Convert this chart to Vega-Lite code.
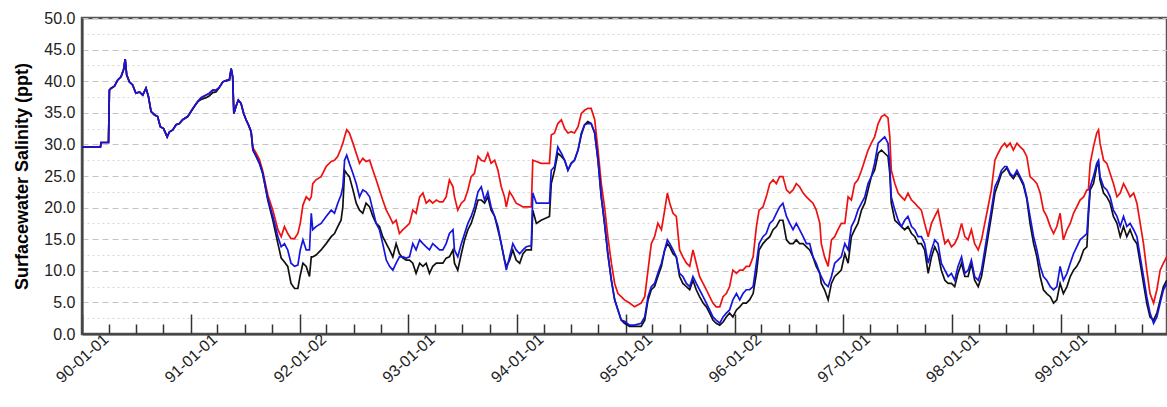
{
  "$schema": "https://vega.github.io/schema/vega-lite/v6.json",
  "width": 1085,
  "height": 316,
  "autosize": {"type": "none"},
  "padding": {"left": 82, "top": 18, "right": 0, "bottom": 73},
  "background": "white",
  "config": {"view": {"stroke": "#555555", "strokeWidth": 2.5}, "font": "Liberation Sans"},
  "data": {
    "format": {"parse": {"d": "date:'%Y-%m-%d'"}},
    "values": [
      {"d":"1990-01-01","r":29.6,"b":29.6,"k":29.6},
      {"d":"1990-03-04","r":29.6,"b":29.6,"k":29.6},
      {"d":"1990-03-06","r":30.3,"b":30.3,"k":30.3},
      {"d":"1990-03-31","r":30.3,"b":30.3,"k":30.3},
      {"d":"1990-04-03","r":38.6,"b":38.6,"k":38.6},
      {"d":"1990-04-09","r":38.9,"b":38.9,"k":38.9},
      {"d":"1990-04-20","r":39.2,"b":39.2,"k":39.2},
      {"d":"1990-05-01","r":40.2,"b":40.2,"k":40.2},
      {"d":"1990-05-12","r":40.7,"b":40.7,"k":40.7},
      {"d":"1990-05-21","r":41.9,"b":41.9,"k":41.9},
      {"d":"1990-05-26","r":43.5,"b":43.5,"k":43.5},
      {"d":"1990-05-31","r":41.0,"b":41.0,"k":41.0},
      {"d":"1990-06-09","r":39.9,"b":39.9,"k":39.9},
      {"d":"1990-06-20","r":39.4,"b":39.4,"k":39.4},
      {"d":"1990-07-01","r":38.1,"b":38.1,"k":38.1},
      {"d":"1990-07-13","r":38.3,"b":38.3,"k":38.3},
      {"d":"1990-07-24","r":37.8,"b":37.8,"k":37.8},
      {"d":"1990-08-04","r":38.9,"b":38.9,"k":38.9},
      {"d":"1990-08-12","r":37.6,"b":37.6,"k":37.6},
      {"d":"1990-08-21","r":35.2,"b":35.2,"k":35.2},
      {"d":"1990-09-01","r":34.7,"b":34.7,"k":34.7},
      {"d":"1990-09-12","r":34.4,"b":34.4,"k":34.4},
      {"d":"1990-09-21","r":32.8,"b":32.8,"k":32.8},
      {"d":"1990-10-02","r":32.5,"b":32.5,"k":32.5},
      {"d":"1990-10-14","r":31.2,"b":31.2,"k":31.2},
      {"d":"1990-10-22","r":32.0,"b":32.0,"k":32.0},
      {"d":"1990-11-02","r":32.3,"b":32.3,"k":32.3},
      {"d":"1990-11-13","r":33.1,"b":33.1,"k":33.1},
      {"d":"1990-11-24","r":33.3,"b":33.3,"k":33.3},
      {"d":"1990-12-05","r":33.9,"b":33.9,"k":33.9},
      {"d":"1990-12-22","r":34.4,"b":34.4,"k":34.4},
      {"d":"1991-01-02","r":35.2,"b":35.2,"k":35.2},
      {"d":"1991-01-13","r":36.0,"b":36.0,"k":36.0},
      {"d":"1991-01-25","r":36.8,"b":36.8,"k":36.8},
      {"d":"1991-02-05","r":37.4,"b":37.4,"k":37.1},
      {"d":"1991-02-22","r":37.8,"b":37.8,"k":37.4},
      {"d":"1991-03-05","r":38.1,"b":38.1,"k":37.7},
      {"d":"1991-03-16","r":38.6,"b":38.6,"k":38.2},
      {"d":"1991-03-27","r":38.6,"b":38.6,"k":38.3},
      {"d":"1991-04-07","r":39.0,"b":39.0,"k":39.0},
      {"d":"1991-04-19","r":39.9,"b":39.9,"k":39.9},
      {"d":"1991-04-30","r":40.1,"b":40.1,"k":40.1},
      {"d":"1991-05-11","r":40.2,"b":40.2,"k":40.2},
      {"d":"1991-05-17","r":42.0,"b":42.0,"k":42.0},
      {"d":"1991-05-22","r":40.7,"b":40.7,"k":40.7},
      {"d":"1991-05-26","r":34.9,"b":34.9,"k":34.9},
      {"d":"1991-06-02","r":36.0,"b":36.0,"k":36.0},
      {"d":"1991-06-10","r":37.0,"b":37.0,"k":37.0},
      {"d":"1991-06-19","r":36.5,"b":36.5,"k":36.5},
      {"d":"1991-06-28","r":34.9,"b":34.9,"k":34.9},
      {"d":"1991-07-06","r":33.9,"b":33.9,"k":33.9},
      {"d":"1991-07-14","r":33.1,"b":33.1,"k":33.1},
      {"d":"1991-07-23","r":32.0,"b":32.0,"k":32.0},
      {"d":"1991-07-29","r":29.5,"b":29.1,"k":29.1},
      {"d":"1991-08-09","r":28.6,"b":28.1,"k":28.1},
      {"d":"1991-08-20","r":27.6,"b":27.0,"k":27.0},
      {"d":"1991-08-31","r":25.8,"b":25.4,"k":25.4},
      {"d":"1991-09-17","r":22.0,"b":21.4,"k":21.2},
      {"d":"1991-10-04","r":19.6,"b":18.6,"k":18.0},
      {"d":"1991-10-21","r":16.5,"b":15.4,"k":14.3},
      {"d":"1991-11-01","r":15.4,"b":13.8,"k":12.0},
      {"d":"1991-11-12","r":17.0,"b":14.3,"k":11.4},
      {"d":"1991-11-23","r":15.9,"b":13.3,"k":10.7},
      {"d":"1991-12-04","r":15.1,"b":11.2,"k":8.0},
      {"d":"1991-12-16","r":15.1,"b":10.7,"k":7.2},
      {"d":"1991-12-27","r":15.9,"b":10.9,"k":7.2},
      {"d":"1992-01-04","r":17.5,"b":13.3,"k":9.3},
      {"d":"1992-01-13","r":20.4,"b":14.9,"k":11.2},
      {"d":"1992-01-24","r":21.7,"b":13.3,"k":10.7},
      {"d":"1992-02-04","r":21.2,"b":13.3,"k":9.1},
      {"d":"1992-02-10","r":21.7,"b":19.1,"k":12.2},
      {"d":"1992-02-15","r":23.8,"b":16.5,"k":12.2},
      {"d":"1992-02-26","r":24.4,"b":17.0,"k":12.5},
      {"d":"1992-03-14","r":24.9,"b":17.5,"k":13.3},
      {"d":"1992-03-31","r":26.5,"b":18.6,"k":14.3},
      {"d":"1992-04-17","r":27.3,"b":19.6,"k":15.4},
      {"d":"1992-04-28","r":27.5,"b":19.1,"k":15.9},
      {"d":"1992-05-09","r":28.1,"b":20.7,"k":17.0},
      {"d":"1992-05-20","r":29.4,"b":22.0,"k":18.0},
      {"d":"1992-05-26","r":30.2,"b":23.3,"k":20.1},
      {"d":"1992-06-01","r":31.2,"b":27.5,"k":25.9},
      {"d":"1992-06-08","r":32.3,"b":28.3,"k":25.4},
      {"d":"1992-06-17","r":31.8,"b":27.0,"k":24.9},
      {"d":"1992-06-29","r":30.2,"b":25.4,"k":22.8},
      {"d":"1992-07-10","r":28.6,"b":23.8,"k":20.7},
      {"d":"1992-07-21","r":27.0,"b":21.7,"k":19.6},
      {"d":"1992-08-01","r":27.8,"b":22.8,"k":19.1},
      {"d":"1992-08-12","r":27.3,"b":22.5,"k":20.7},
      {"d":"1992-08-24","r":27.5,"b":21.7,"k":20.1},
      {"d":"1992-09-04","r":25.9,"b":19.6,"k":18.6},
      {"d":"1992-09-15","r":24.4,"b":17.5,"k":17.5},
      {"d":"1992-09-26","r":22.8,"b":16.5,"k":17.0},
      {"d":"1992-10-07","r":21.2,"b":14.3,"k":15.4},
      {"d":"1992-10-19","r":19.6,"b":11.7,"k":14.3},
      {"d":"1992-10-30","r":18.6,"b":10.7,"k":13.3},
      {"d":"1992-11-10","r":17.5,"b":10.1,"k":12.2},
      {"d":"1992-11-21","r":18.0,"b":11.2,"k":14.3},
      {"d":"1992-12-02","r":15.9,"b":12.2,"k":12.7},
      {"d":"1992-12-14","r":16.5,"b":12.2,"k":12.0},
      {"d":"1992-12-25","r":17.0,"b":12.0,"k":11.7},
      {"d":"1993-01-05","r":17.5,"b":12.2,"k":11.7},
      {"d":"1993-01-16","r":19.6,"b":14.3,"k":11.2},
      {"d":"1993-01-27","r":19.1,"b":13.3,"k":9.6},
      {"d":"1993-02-08","r":21.7,"b":14.9,"k":11.2},
      {"d":"1993-02-19","r":22.3,"b":14.3,"k":10.7},
      {"d":"1993-03-02","r":20.7,"b":13.8,"k":11.2},
      {"d":"1993-03-13","r":21.2,"b":13.3,"k":9.6},
      {"d":"1993-03-24","r":20.7,"b":14.3,"k":10.7},
      {"d":"1993-04-05","r":21.2,"b":13.8,"k":11.2},
      {"d":"1993-04-16","r":20.9,"b":13.3,"k":11.2},
      {"d":"1993-04-27","r":20.9,"b":13.3,"k":11.2},
      {"d":"1993-05-08","r":21.7,"b":14.3,"k":12.0},
      {"d":"1993-05-19","r":24.4,"b":15.9,"k":12.2},
      {"d":"1993-05-31","r":23.3,"b":16.5,"k":13.3},
      {"d":"1993-06-05","r":21.7,"b":13.3,"k":11.2},
      {"d":"1993-06-16","r":19.6,"b":12.2,"k":10.1},
      {"d":"1993-06-28","r":20.7,"b":14.3,"k":12.7},
      {"d":"1993-07-09","r":21.2,"b":15.9,"k":14.9},
      {"d":"1993-07-20","r":22.8,"b":17.5,"k":16.5},
      {"d":"1993-07-31","r":24.9,"b":18.6,"k":17.5},
      {"d":"1993-08-11","r":25.4,"b":20.1,"k":19.1},
      {"d":"1993-08-23","r":28.1,"b":22.5,"k":21.2},
      {"d":"1993-09-03","r":27.5,"b":23.3,"k":21.2},
      {"d":"1993-09-14","r":27.3,"b":21.2,"k":20.7},
      {"d":"1993-09-25","r":28.6,"b":22.5,"k":21.7},
      {"d":"1993-10-06","r":27.0,"b":20.1,"k":19.6},
      {"d":"1993-10-18","r":27.5,"b":18.6,"k":18.6},
      {"d":"1993-10-29","r":25.9,"b":17.0,"k":16.5},
      {"d":"1993-11-09","r":23.3,"b":14.3,"k":14.3},
      {"d":"1993-11-20","r":21.7,"b":11.7,"k":11.7},
      {"d":"1993-11-26","r":20.1,"b":10.1,"k":10.7},
      {"d":"1993-12-07","r":22.5,"b":12.2,"k":11.7},
      {"d":"1993-12-18","r":21.7,"b":14.3,"k":13.3},
      {"d":"1993-12-29","r":20.7,"b":13.3,"k":11.7},
      {"d":"1994-01-10","r":20.4,"b":12.7,"k":11.2},
      {"d":"1994-01-21","r":20.1,"b":13.3,"k":12.7},
      {"d":"1994-02-01","r":20.1,"b":13.8,"k":13.3},
      {"d":"1994-02-18","r":20.1,"b":14.0,"k":13.3},
      {"d":"1994-02-23","r":27.5,"b":22.3,"k":19.6},
      {"d":"1994-03-07","r":27.3,"b":20.7,"k":17.5},
      {"d":"1994-03-23","r":27.0,"b":20.7,"k":18.0},
      {"d":"1994-04-20","r":27.0,"b":20.7,"k":18.6},
      {"d":"1994-04-26","r":31.5,"b":25.9,"k":23.8},
      {"d":"1994-05-07","r":31.8,"b":26.5,"k":25.9},
      {"d":"1994-05-18","r":33.3,"b":29.6,"k":28.6},
      {"d":"1994-05-30","r":33.9,"b":28.6,"k":28.1},
      {"d":"1994-06-10","r":32.5,"b":27.5,"k":27.5},
      {"d":"1994-06-21","r":31.8,"b":25.9,"k":25.9},
      {"d":"1994-07-02","r":32.0,"b":27.0,"k":27.0},
      {"d":"1994-07-13","r":31.8,"b":27.5,"k":27.5},
      {"d":"1994-07-25","r":32.8,"b":29.1,"k":29.1},
      {"d":"1994-08-05","r":34.9,"b":31.8,"k":31.5},
      {"d":"1994-08-16","r":35.4,"b":33.1,"k":33.1},
      {"d":"1994-08-27","r":35.7,"b":33.3,"k":33.6},
      {"d":"1994-09-07","r":35.7,"b":33.3,"k":33.3},
      {"d":"1994-09-19","r":33.9,"b":31.8,"k":31.8},
      {"d":"1994-09-30","r":29.1,"b":27.5,"k":27.5},
      {"d":"1994-10-11","r":23.8,"b":21.7,"k":21.7},
      {"d":"1994-10-22","r":20.1,"b":17.5,"k":17.5},
      {"d":"1994-11-02","r":15.4,"b":12.7,"k":12.7},
      {"d":"1994-11-14","r":11.2,"b":8.5,"k":8.5},
      {"d":"1994-11-25","r":8.0,"b":5.4,"k":5.4},
      {"d":"1994-12-06","r":6.4,"b":3.8,"k":3.8},
      {"d":"1994-12-17","r":5.9,"b":2.2,"k":2.2},
      {"d":"1994-12-28","r":5.4,"b":2.0,"k":1.7},
      {"d":"1995-01-14","r":4.9,"b":1.4,"k":1.2},
      {"d":"1995-01-31","r":4.3,"b":1.4,"k":1.2},
      {"d":"1995-02-22","r":4.9,"b":1.7,"k":1.2},
      {"d":"1995-03-06","r":5.9,"b":2.7,"k":2.2},
      {"d":"1995-03-17","r":10.1,"b":5.9,"k":5.4},
      {"d":"1995-03-28","r":14.3,"b":7.5,"k":7.0},
      {"d":"1995-04-08","r":15.4,"b":8.0,"k":7.5},
      {"d":"1995-04-19","r":17.5,"b":9.6,"k":9.1},
      {"d":"1995-05-01","r":16.5,"b":11.2,"k":10.7},
      {"d":"1995-05-12","r":19.6,"b":13.3,"k":13.3},
      {"d":"1995-05-21","r":22.3,"b":14.9,"k":14.3},
      {"d":"1995-05-29","r":20.7,"b":14.3,"k":13.8},
      {"d":"1995-06-09","r":19.1,"b":13.3,"k":12.7},
      {"d":"1995-06-20","r":18.6,"b":12.2,"k":12.2},
      {"d":"1995-07-01","r":13.3,"b":9.6,"k":9.1},
      {"d":"1995-07-12","r":12.2,"b":9.1,"k":8.0},
      {"d":"1995-07-24","r":11.2,"b":8.0,"k":7.5},
      {"d":"1995-08-04","r":10.7,"b":7.5,"k":7.0},
      {"d":"1995-08-15","r":13.3,"b":9.1,"k":8.5},
      {"d":"1995-08-26","r":11.2,"b":8.0,"k":7.0},
      {"d":"1995-09-06","r":9.1,"b":7.0,"k":5.9},
      {"d":"1995-09-18","r":8.0,"b":5.9,"k":4.9},
      {"d":"1995-09-29","r":7.0,"b":4.9,"k":4.3},
      {"d":"1995-10-10","r":5.9,"b":3.8,"k":3.3},
      {"d":"1995-10-21","r":4.9,"b":2.7,"k":2.2},
      {"d":"1995-11-01","r":4.3,"b":2.2,"k":1.7},
      {"d":"1995-11-13","r":4.3,"b":1.7,"k":1.4},
      {"d":"1995-11-24","r":5.9,"b":2.7,"k":1.9},
      {"d":"1995-12-05","r":6.4,"b":3.3,"k":2.7},
      {"d":"1995-12-16","r":7.5,"b":3.8,"k":3.3},
      {"d":"1995-12-27","r":10.1,"b":5.4,"k":2.7},
      {"d":"1996-01-08","r":9.6,"b":6.4,"k":3.8},
      {"d":"1996-01-19","r":10.1,"b":5.4,"k":4.3},
      {"d":"1996-01-30","r":10.1,"b":6.4,"k":4.9},
      {"d":"1996-02-10","r":10.7,"b":7.0,"k":4.9},
      {"d":"1996-02-21","r":10.7,"b":7.0,"k":5.4},
      {"d":"1996-03-04","r":12.2,"b":7.5,"k":6.4},
      {"d":"1996-03-15","r":17.0,"b":11.2,"k":9.6},
      {"d":"1996-03-24","r":19.6,"b":14.3,"k":13.3},
      {"d":"1996-04-06","r":20.1,"b":15.4,"k":14.3},
      {"d":"1996-04-17","r":21.7,"b":15.9,"k":14.9},
      {"d":"1996-04-29","r":23.8,"b":17.5,"k":15.4},
      {"d":"1996-05-10","r":24.4,"b":18.0,"k":16.5},
      {"d":"1996-05-21","r":23.8,"b":19.1,"k":17.0},
      {"d":"1996-06-01","r":24.9,"b":20.1,"k":18.0},
      {"d":"1996-06-12","r":24.9,"b":20.7,"k":18.0},
      {"d":"1996-06-24","r":22.8,"b":18.6,"k":14.9},
      {"d":"1996-07-05","r":22.3,"b":17.5,"k":14.3},
      {"d":"1996-07-16","r":22.8,"b":16.5,"k":14.3},
      {"d":"1996-07-27","r":23.8,"b":17.5,"k":14.9},
      {"d":"1996-08-07","r":23.3,"b":16.5,"k":14.3},
      {"d":"1996-08-19","r":22.3,"b":15.4,"k":14.3},
      {"d":"1996-08-30","r":21.7,"b":14.3,"k":13.8},
      {"d":"1996-09-10","r":21.2,"b":14.3,"k":13.3},
      {"d":"1996-09-21","r":20.7,"b":12.2,"k":12.2},
      {"d":"1996-10-02","r":19.6,"b":11.2,"k":10.7},
      {"d":"1996-10-14","r":17.5,"b":9.6,"k":9.6},
      {"d":"1996-10-19","r":14.3,"b":9.1,"k":8.0},
      {"d":"1996-10-30","r":12.2,"b":8.0,"k":7.0},
      {"d":"1996-11-11","r":10.7,"b":7.5,"k":5.4},
      {"d":"1996-11-22","r":14.9,"b":9.1,"k":8.0},
      {"d":"1996-12-03","r":15.4,"b":11.2,"k":9.1},
      {"d":"1996-12-14","r":16.5,"b":11.7,"k":9.6},
      {"d":"1996-12-25","r":17.5,"b":12.2,"k":10.1},
      {"d":"1997-01-06","r":17.5,"b":14.3,"k":12.7},
      {"d":"1997-01-17","r":21.7,"b":13.3,"k":11.2},
      {"d":"1997-01-28","r":21.2,"b":17.0,"k":15.4},
      {"d":"1997-02-08","r":23.8,"b":18.0,"k":16.5},
      {"d":"1997-02-19","r":24.4,"b":19.6,"k":17.5},
      {"d":"1997-03-03","r":25.9,"b":20.7,"k":19.6},
      {"d":"1997-03-14","r":27.5,"b":21.7,"k":20.7},
      {"d":"1997-03-25","r":29.1,"b":23.8,"k":22.8},
      {"d":"1997-04-05","r":30.2,"b":24.9,"k":24.9},
      {"d":"1997-04-16","r":31.2,"b":27.0,"k":25.9},
      {"d":"1997-04-28","r":33.3,"b":30.2,"k":28.6},
      {"d":"1997-05-09","r":34.4,"b":30.7,"k":29.1},
      {"d":"1997-05-20","r":34.7,"b":31.2,"k":28.6},
      {"d":"1997-05-31","r":34.2,"b":30.2,"k":28.1},
      {"d":"1997-06-06","r":31.2,"b":26.5,"k":25.4},
      {"d":"1997-06-11","r":25.9,"b":21.7,"k":20.7},
      {"d":"1997-06-23","r":23.8,"b":19.6,"k":18.0},
      {"d":"1997-07-04","r":22.3,"b":18.0,"k":17.5},
      {"d":"1997-07-15","r":21.7,"b":17.0,"k":17.0},
      {"d":"1997-07-26","r":21.2,"b":18.0,"k":16.5},
      {"d":"1997-08-06","r":22.3,"b":18.6,"k":17.0},
      {"d":"1997-08-18","r":21.2,"b":17.0,"k":15.9},
      {"d":"1997-08-29","r":20.7,"b":16.5,"k":15.4},
      {"d":"1997-09-09","r":20.1,"b":15.4,"k":14.3},
      {"d":"1997-09-20","r":19.6,"b":15.4,"k":14.3},
      {"d":"1997-10-01","r":17.5,"b":14.3,"k":13.3},
      {"d":"1997-10-13","r":15.4,"b":11.2,"k":9.6},
      {"d":"1997-10-24","r":17.5,"b":13.3,"k":12.2},
      {"d":"1997-11-04","r":18.6,"b":14.9,"k":13.8},
      {"d":"1997-11-15","r":19.6,"b":14.3,"k":12.7},
      {"d":"1997-11-26","r":17.0,"b":11.2,"k":10.1},
      {"d":"1997-12-08","r":14.3,"b":10.1,"k":8.5},
      {"d":"1997-12-19","r":14.9,"b":9.1,"k":8.0},
      {"d":"1997-12-30","r":13.8,"b":9.6,"k":8.0},
      {"d":"1998-01-10","r":14.3,"b":8.5,"k":7.5},
      {"d":"1998-01-21","r":15.4,"b":10.7,"k":9.6},
      {"d":"1998-02-02","r":17.5,"b":12.2,"k":11.2},
      {"d":"1998-02-13","r":15.4,"b":9.6,"k":9.1},
      {"d":"1998-02-24","r":14.9,"b":10.1,"k":9.1},
      {"d":"1998-03-07","r":16.5,"b":11.7,"k":11.2},
      {"d":"1998-03-18","r":14.3,"b":9.1,"k":8.5},
      {"d":"1998-03-30","r":13.3,"b":8.5,"k":7.5},
      {"d":"1998-04-10","r":14.9,"b":10.1,"k":9.1},
      {"d":"1998-04-21","r":17.5,"b":13.3,"k":12.2},
      {"d":"1998-05-02","r":20.1,"b":16.5,"k":15.4},
      {"d":"1998-05-13","r":22.8,"b":19.6,"k":18.6},
      {"d":"1998-05-25","r":27.5,"b":23.3,"k":22.3},
      {"d":"1998-06-05","r":28.6,"b":24.4,"k":23.8},
      {"d":"1998-06-16","r":29.6,"b":25.9,"k":25.4},
      {"d":"1998-06-27","r":30.2,"b":26.5,"k":25.9},
      {"d":"1998-07-04","r":29.6,"b":26.5,"k":26.3},
      {"d":"1998-07-15","r":30.2,"b":25.4,"k":25.2},
      {"d":"1998-07-26","r":29.1,"b":24.9,"k":24.6},
      {"d":"1998-08-07","r":30.2,"b":25.9,"k":25.5},
      {"d":"1998-08-18","r":29.6,"b":24.9,"k":24.6},
      {"d":"1998-08-29","r":29.1,"b":23.8,"k":23.5},
      {"d":"1998-09-09","r":28.1,"b":21.7,"k":21.4},
      {"d":"1998-09-20","r":24.9,"b":18.6,"k":17.5},
      {"d":"1998-10-02","r":24.4,"b":15.4,"k":14.3},
      {"d":"1998-10-13","r":23.8,"b":13.3,"k":12.2},
      {"d":"1998-10-24","r":22.3,"b":10.7,"k":9.1},
      {"d":"1998-11-04","r":19.6,"b":9.1,"k":7.0},
      {"d":"1998-11-15","r":18.6,"b":8.5,"k":6.4},
      {"d":"1998-11-27","r":17.0,"b":7.5,"k":5.9},
      {"d":"1998-12-08","r":15.9,"b":7.0,"k":4.9},
      {"d":"1998-12-19","r":17.0,"b":7.5,"k":5.4},
      {"d":"1998-12-30","r":19.1,"b":10.7,"k":8.0},
      {"d":"1999-01-10","r":14.9,"b":8.5,"k":6.4},
      {"d":"1999-01-22","r":16.5,"b":9.6,"k":7.5},
      {"d":"1999-02-02","r":17.5,"b":11.2,"k":9.1},
      {"d":"1999-02-13","r":19.1,"b":12.7,"k":10.1},
      {"d":"1999-02-24","r":20.1,"b":13.8,"k":10.7},
      {"d":"1999-03-07","r":21.2,"b":14.9,"k":11.7},
      {"d":"1999-03-19","r":21.7,"b":15.4,"k":13.3},
      {"d":"1999-03-30","r":22.8,"b":15.9,"k":13.8},
      {"d":"1999-04-04","r":22.8,"b":19.6,"k":18.6},
      {"d":"1999-04-10","r":27.0,"b":23.3,"k":22.8},
      {"d":"1999-04-21","r":29.6,"b":24.9,"k":23.8},
      {"d":"1999-05-02","r":31.8,"b":27.0,"k":26.5},
      {"d":"1999-05-08","r":32.3,"b":27.5,"k":27.0},
      {"d":"1999-05-13","r":30.2,"b":24.9,"k":24.4},
      {"d":"1999-05-25","r":27.5,"b":23.3,"k":22.3},
      {"d":"1999-06-05","r":27.0,"b":22.8,"k":21.7},
      {"d":"1999-06-16","r":25.4,"b":21.7,"k":20.7},
      {"d":"1999-06-27","r":23.8,"b":19.6,"k":18.6},
      {"d":"1999-07-09","r":21.7,"b":18.6,"k":17.5},
      {"d":"1999-07-20","r":22.3,"b":17.0,"k":15.4},
      {"d":"1999-07-31","r":23.8,"b":18.6,"k":17.0},
      {"d":"1999-08-11","r":22.8,"b":17.0,"k":15.4},
      {"d":"1999-08-22","r":21.7,"b":17.5,"k":16.5},
      {"d":"1999-09-03","r":22.3,"b":16.5,"k":15.0},
      {"d":"1999-09-14","r":20.7,"b":15.4,"k":14.3},
      {"d":"1999-09-25","r":17.5,"b":12.2,"k":11.2},
      {"d":"1999-10-06","r":14.3,"b":9.1,"k":8.0},
      {"d":"1999-10-17","r":10.1,"b":5.9,"k":4.9},
      {"d":"1999-10-28","r":6.4,"b":3.3,"k":2.7},
      {"d":"1999-11-09","r":4.9,"b":1.7,"k":2.2},
      {"d":"1999-11-20","r":7.0,"b":2.7,"k":3.3},
      {"d":"1999-12-01","r":10.1,"b":4.9,"k":5.4},
      {"d":"1999-12-12","r":11.2,"b":7.0,"k":7.5},
      {"d":"1999-12-23","r":12.2,"b":8.0,"k":8.5}
    ]
  },
  "transform": [{"fold": ["r", "k", "b"], "as": ["series", "v"]}],
  "mark": {"type": "line", "strokeWidth": 1.7, "interpolate": "linear"},
  "encoding": {
    "x": {
      "field": "d",
      "type": "temporal",
      "scale": {"domain": [{"year": 1990, "month": 1, "date": 1}, {"year": 1999, "month": 12, "date": 24}]},
      "axis": {
        "title": null,
        "grid": false,
        "values": [
          {"year": 1990, "month": 1, "date": 1}, {"year": 1990, "month": 4, "date": 1}, {"year": 1990, "month": 7, "date": 1}, {"year": 1990, "month": 10, "date": 1},
          {"year": 1991, "month": 1, "date": 1}, {"year": 1991, "month": 4, "date": 1}, {"year": 1991, "month": 7, "date": 1}, {"year": 1991, "month": 10, "date": 1},
          {"year": 1992, "month": 1, "date": 2}, {"year": 1992, "month": 4, "date": 1}, {"year": 1992, "month": 7, "date": 1}, {"year": 1992, "month": 10, "date": 1},
          {"year": 1993, "month": 1, "date": 1}, {"year": 1993, "month": 4, "date": 1}, {"year": 1993, "month": 7, "date": 1}, {"year": 1993, "month": 10, "date": 1},
          {"year": 1994, "month": 1, "date": 1}, {"year": 1994, "month": 4, "date": 1}, {"year": 1994, "month": 7, "date": 1}, {"year": 1994, "month": 10, "date": 1},
          {"year": 1995, "month": 1, "date": 1}, {"year": 1995, "month": 4, "date": 1}, {"year": 1995, "month": 7, "date": 1}, {"year": 1995, "month": 10, "date": 1},
          {"year": 1996, "month": 1, "date": 2}, {"year": 1996, "month": 4, "date": 1}, {"year": 1996, "month": 7, "date": 1}, {"year": 1996, "month": 10, "date": 1},
          {"year": 1997, "month": 1, "date": 1}, {"year": 1997, "month": 4, "date": 1}, {"year": 1997, "month": 7, "date": 1}, {"year": 1997, "month": 10, "date": 1},
          {"year": 1998, "month": 1, "date": 1}, {"year": 1998, "month": 4, "date": 1}, {"year": 1998, "month": 7, "date": 1}, {"year": 1998, "month": 10, "date": 1},
          {"year": 1999, "month": 1, "date": 1}, {"year": 1999, "month": 4, "date": 1}, {"year": 1999, "month": 7, "date": 1}, {"year": 1999, "month": 10, "date": 1}
        ],
        "labelExpr": "month(datum.value) === 0 ? timeFormat(datum.value, '%y-%m-%d') : ''",
        "labelAngle": -42,
        "labelAlign": "center",
        "labelBaseline": "middle",
        "labelPadding": 44,
        "labelFontSize": 16,
        "labelColor": "#222222",
        "labelOverlap": false,
        "labelBound": false,
        "labelFlush": false,
        "tickSize": {"condition": {"test": "month(datum.value) === 0", "value": -20}, "value": -10},
        "tickColor": "#333333",
        "tickWidth": 1.5,
        "domainColor": "#444444",
        "domainWidth": 2
      }
    },
    "y": {
      "field": "v",
      "type": "quantitative",
      "scale": {"domain": [0, 50], "nice": false},
      "axis": {
        "title": "Surfacewater Salinity (ppt)",
        "titleFontSize": 18,
        "titleFontWeight": "bold",
        "titleColor": "#000000",
        "titlePadding": 12,
        "values": [0, 2.5, 5, 7.5, 10, 12.5, 15, 17.5, 20, 22.5, 25, 27.5, 30, 32.5, 35, 37.5, 40, 42.5, 45, 47.5, 50],
        "labelExpr": "datum.value % 5 === 0 ? format(datum.value, '.1f') : ''",
        "labelFontSize": 16,
        "labelColor": "#222222",
        "labelPadding": 7,
        "ticks": false,
        "grid": true,
        "gridDash": {"condition": {"test": "datum.value % 5 === 0", "value": [6, 4]}, "value": [2, 3]},
        "gridColor": {"condition": {"test": "datum.value % 5 === 0", "value": "#c4c4c4"}, "value": "#d6d6d6"},
        "gridWidth": 1,
        "domainColor": "#444444",
        "domainWidth": 2
      }
    },
    "color": {
      "field": "series",
      "type": "nominal",
      "scale": {"domain": ["r", "k", "b"], "range": ["#ee1111", "#111111", "#1515dd"]},
      "legend": null
    }
  }
}
